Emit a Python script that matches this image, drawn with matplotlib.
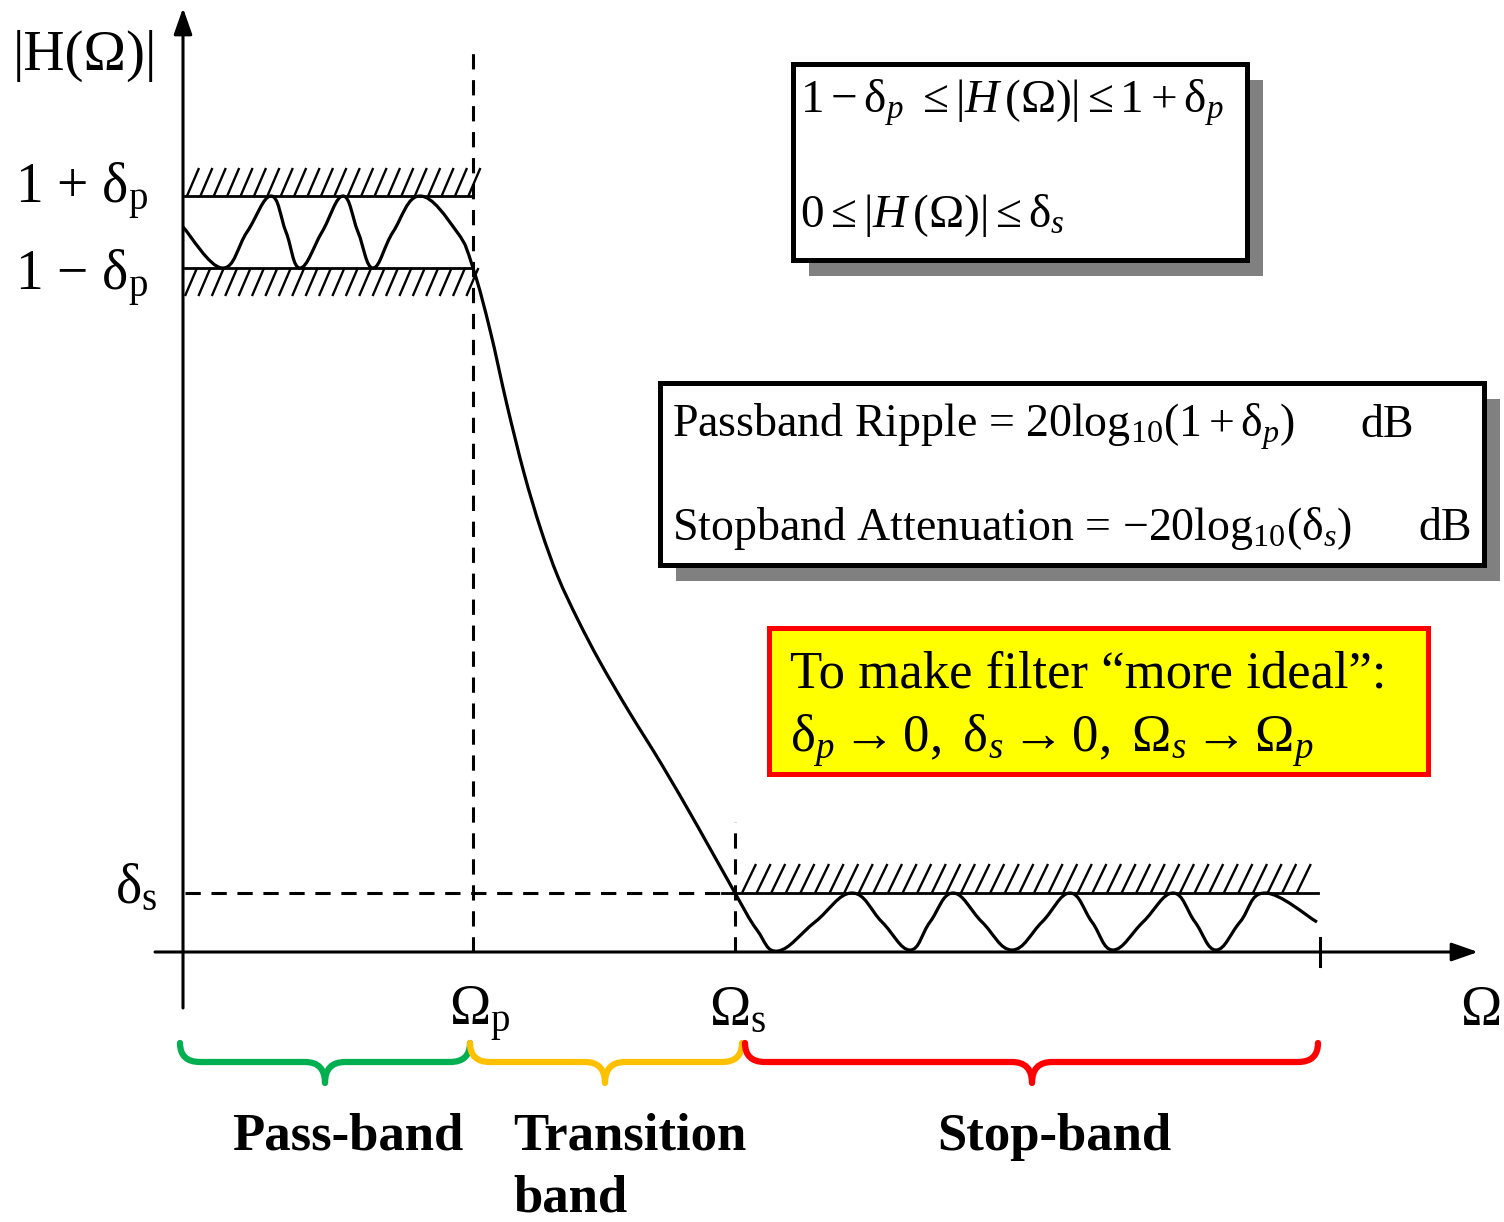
import numpy as np
import matplotlib
matplotlib.use('Agg')
import matplotlib.pyplot as plt
from matplotlib.path import Path
from matplotlib.patches import PathPatch, Rectangle
from matplotlib.collections import LineCollection

plt.rcParams['font.family'] = 'Liberation Serif'
plt.rcParams['mathtext.fontset'] = 'custom'
plt.rcParams['mathtext.rm'] = 'Liberation Serif'
plt.rcParams['mathtext.it'] = 'Liberation Serif:italic'
plt.rcParams['mathtext.bf'] = 'Liberation Serif:bold'

# band edges on the Omega axis and magnitude levels (sketch units)
omega_p = 290
omega_s = 552
omega_end = 1137
pass_hi = 756     # 1 + delta_p
pass_lo = 684     # 1 - delta_p
delta_s = 59

# |H(Omega)|: passband ripple, transition, stopband ripple
w_pass = [0, 39, 64, 88, 103, 117, 139, 160, 175, 190, 210, 237, 274, 290]
h_pass = [725, 684, 720, 756, 720, 684, 720, 756, 720, 684, 720, 756, 720, 684]
w_trans = [307, 324, 341, 358, 375, 395, 417, 445, 479, 515, 552]
h_trans = [622, 547, 479, 422, 375, 332, 290, 242, 187, 125, 59]
w_stop = [574, 595, 632, 669, 699, 727, 747, 770, 799, 829, 859, 887,
          909, 930, 960, 990, 1012, 1033, 1057, 1082, 1134]
h_stop = [22, 1, 30, 59, 30, 2, 30, 59, 30, 2, 30, 59,
          30, 2, 30, 59, 30, 2, 30, 59, 30]

# bands under the axis
band_labels = ['Pass-band', 'Transition\nband', 'Stop-band']
band_edges = [(-3, 287), (287, 559), (562, 1135)]
band_tips = [142, 422, 849]
band_colors = ['#00B050', '#FFC000', '#FF0000']


def smooth_path(xs, ys, ks):
    # catmull-rom style curve through the read points, as bezier segments
    pts = np.column_stack([xs, ys]).astype(float)
    n = len(pts)
    tang = [(pts[min(i + 1, n - 1)] - pts[max(i - 1, 0)]) * ks[i] for i in range(n)]
    verts = [pts[0]]
    codes = [Path.MOVETO]
    for i in range(n - 1):
        verts += [pts[i] + tang[i], pts[i + 1] - tang[i + 1], pts[i + 1]]
        codes += [Path.CURVE4] * 3
    return Path(verts, codes)


def hatch(ax, x0, x1, y0, height, step, lean, lw=1.7):
    xs = np.arange(x0, x1, step)
    segs = [[(x, y0), (x + lean, y0 + height)] for x in xs]
    ax.add_collection(LineCollection(segs, colors='k', linewidths=lw))


def brace(ax, x0, x1, xm, color, ytop=-91, ybar=-110, ytip=-131, r=20):
    verts = [(x0, ytop), (x0, ybar), (x0 + r, ybar),
             (xm - r, ybar), (xm, ybar), (xm, ytip),
             (xm, ybar), (xm + r, ybar),
             (x1 - r, ybar), (x1, ybar), (x1, ytop)]
    codes = [Path.MOVETO, Path.CURVE3, Path.CURVE3,
             Path.LINETO, Path.CURVE3, Path.CURVE3,
             Path.CURVE3, Path.CURVE3,
             Path.LINETO, Path.CURVE3, Path.CURVE3]
    ax.add_patch(PathPatch(Path(verts, codes), fill=False, edgecolor=color,
                           lw=4.5, capstyle='round', joinstyle='round'))


fig = plt.figure(figsize=(15.04, 12.22), dpi=100)
ax = fig.add_axes([0, 0, 1, 1])
ax.set_xlim(-183, 1321)
ax.set_ylim(-270, 952)
ax.axis('off')

# dashed guide lines
dash = dict(color='k', lw=2.2, dashes=(5, 3.5))
ax.plot([omega_p, omega_p], [0, 904], **dash)
ax.plot([omega_s, omega_s], [0, 130], **dash)
ax.plot([2, omega_s], [delta_s, delta_s], **dash)

# tolerance limits with hatching
ax.plot([2, omega_p], [pass_hi, pass_hi], color='k', lw=2)
ax.plot([2, omega_p], [pass_lo, pass_lo], color='k', lw=2)
hatch(ax, 4, omega_p, pass_hi, 28, 13.4, 12)
hatch(ax, 2, omega_p, pass_lo - 28, 28, 13.4, 12)
ax.plot([539, omega_end - 2], [delta_s, delta_s], color='k', lw=2)
hatch(ax, 559, omega_end - 10, delta_s, 29, 14.6, 14)

# response curve
w_all = w_pass + w_trans + w_stop
h_all = h_pass + h_trans + h_stop
ks = [0.2] * len(w_pass) + [1 / 6] * len(w_trans) + [0.2] * len(w_stop)
ax.add_patch(PathPatch(smooth_path(w_all, h_all, ks), fill=False,
                       edgecolor='k', lw=2.3, zorder=4))

# axes with arrows
arrow = dict(arrowstyle='-|>,head_length=1.0,head_width=0.35', lw=2.2,
             color='k', shrinkA=0, shrinkB=0, mutation_scale=16)
ax.annotate('', xy=(0, 944), xytext=(0, -56), arrowprops=arrow)
ax.annotate('', xy=(1295, 0), xytext=(-28, 0), arrowprops=arrow)
ax.plot([omega_end, omega_end], [-14, 14], color='k', lw=2.2)

# axis labels
fs = 40
ax.text(-98, 896, '|H(Ω)|', fontsize=41, ha='center', va='center')
ax.text(-168, pass_hi - 7, '1 + δ$_\\mathrm{p}$', fontsize=fs, va='baseline')
ax.text(-168, pass_lo - 22, '1 − δ$_\\mathrm{p}$', fontsize=fs, va='baseline')
ax.text(-68, delta_s - 10, 'δ$_\\mathrm{s}$', fontsize=fs, va='baseline')
ax.text(omega_p - 24, -73, 'Ω$_\\mathrm{p}$', fontsize=fs, va='baseline')
ax.text(omega_s - 26, -73, 'Ω$_\\mathrm{s}$', fontsize=fs, va='baseline')
ax.text(1277, -73, 'Ω', fontsize=fs, va='baseline')

# spec boxes
ax.add_patch(Rectangle((626, 676), 454, 196, facecolor='#808080', edgecolor='none', zorder=5))
ax.add_patch(Rectangle((610, 692), 454, 196, facecolor='white', edgecolor='k', lw=3.6, zorder=6))
ax.text(617, 839, r'$1-\mathrm{\delta}_p\ \leq\left|H\,(\Omega)\right|\leq 1+\mathrm{\delta}_p$',
        fontsize=34, va='baseline', zorder=7)
ax.text(617, 725, r'$0\leq\left|H\,(\Omega)\right|\leq\mathrm{\delta}_s$',
        fontsize=34, va='baseline', zorder=7)

ax.add_patch(Rectangle((493, 371), 824, 182, facecolor='#808080', edgecolor='none', zorder=5))
ax.add_patch(Rectangle((477, 387), 824, 182, facecolor='white', edgecolor='k', lw=3.6, zorder=6))
ax.text(489, 515, r'Passband Ripple = $20\mathrm{log}_{10}(1+\mathrm{\delta}_p)$',
        fontsize=33, va='baseline', zorder=7)
ax.text(1177, 515, 'dB', fontsize=33, va='baseline', zorder=7)
ax.text(489, 412, r'Stopband Attenuation = $-20\mathrm{log}_{10}(\mathrm{\delta}_s)$',
        fontsize=33, va='baseline', zorder=7)
ax.text(1235, 412, 'dB', fontsize=33, va='baseline', zorder=7)

ax.add_patch(Rectangle((586, 178), 659, 146, facecolor='#FFFF00', edgecolor='#FF0000', lw=3.6, zorder=6))
ax.text(607, 264, 'To make filter “more ideal”:', fontsize=38, va='baseline', zorder=7)
ax.text(607, 200, r'$\mathrm{\delta}_p\rightarrow 0,\ \mathrm{\delta}_s\rightarrow 0,\ \Omega_s\rightarrow\Omega_p$',
        fontsize=38, va='baseline', zorder=7)

# band braces and names
label_x = [165, 330, 754]
label_ha = ['center', 'left', 'left']
for (x0, x1), xm, c, name, lx, ha in zip(band_edges, band_tips, band_colors,
                                         band_labels, label_x, label_ha):
    brace(ax, x0, x1, xm, c)
    for i, line in enumerate(name.split('\n')):
        ax.text(lx, -198 - 62 * i, line, fontsize=38, fontweight='bold',
                ha=ha, va='baseline')

fig.savefig('out.png', dpi=100)
